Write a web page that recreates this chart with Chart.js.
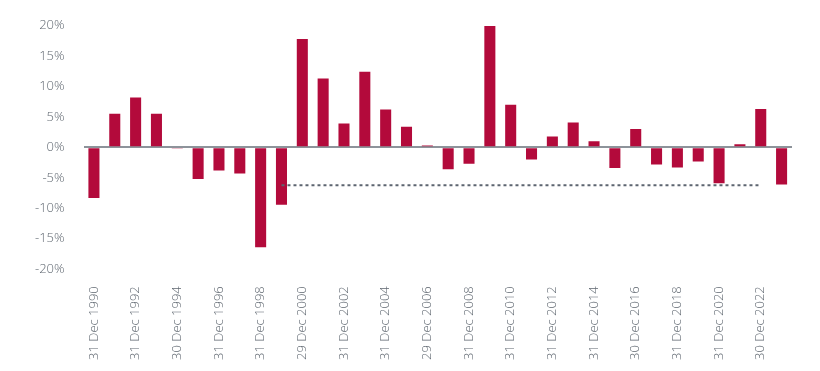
<!DOCTYPE html>
<html>
<head>
<meta charset="utf-8">
<script src="https://cdn.jsdelivr.net/npm/chart.js@4"></script>
<style>
  html, body { margin: 0; padding: 0; background: #fff; }
  #wrap { width: 820px; height: 371px; position: relative; }
</style>
</head>
<body>
<div id="wrap"><canvas id="returnsChart"></canvas></div>
<script>
const dateLabels = [
    '31 Dec 1990', '31 Dec 1991', '31 Dec 1992', '31 Dec 1993', '30 Dec 1994', '29 Dec 1995',
    '31 Dec 1996', '31 Dec 1997', '31 Dec 1998', '31 Dec 1999', '29 Dec 2000', '31 Dec 2001',
    '31 Dec 2002', '31 Dec 2003', '31 Dec 2004', '30 Dec 2005', '29 Dec 2006', '31 Dec 2007',
    '31 Dec 2008', '31 Dec 2009', '31 Dec 2010', '30 Dec 2011', '31 Dec 2012', '31 Dec 2013',
    '31 Dec 2014', '31 Dec 2015', '30 Dec 2016', '29 Dec 2017', '31 Dec 2018', '31 Dec 2019',
    '31 Dec 2020', '31 Dec 2021', '30 Dec 2022', '29 Dec 2023'
];

// yearly returns, %
const yearlyReturns = [
    -8.3, 5.5, 8.2, 5.5, -0.1, -5.2, -3.8, -4.3, -16.4, -9.4,
    17.8, 11.3, 3.9, 12.4, 6.2, 3.4, 0.3, -3.6, -2.7, 19.9,
    7.0, -2.0, 1.8, 4.1, 1.0, -3.4, 3.0, -2.8, -3.3, -2.3,
    -5.9, 0.5, 6.3, -6.1
];

// dotted reference level, drawn from 1999 to 2022
const refLevel = -6.2;
const refFrom = '31 Dec 1999';
const refTo = '30 Dec 2022';

const yTicks = [-20, -15, -10, -5, 0, 5, 10, 15, 20];

const i0 = dateLabels.indexOf(refFrom);
const i1 = dateLabels.indexOf(refTo);
const refLine = dateLabels.map((d, i) => (i >= i0 && i <= i1) ? refLevel : null);

const tickColor = '#5f6770';

new Chart(document.getElementById('returnsChart'), {
    data: {
        labels: dateLabels,
        datasets: [
            {
                type: 'line',
                data: refLine,
                borderColor: '#5d6570',
                borderWidth: 2,
                borderDash: [3, 3],
                pointRadius: 0,
                fill: false,
                spanGaps: false,
                order: 0
            },
            {
                type: 'bar',
                data: yearlyReturns,
                backgroundColor: '#b30a3b',
                barPercentage: 0.53,
                categoryPercentage: 1.0,
                order: 1
            }
        ]
    },
    options: {
        responsive: true,
        maintainAspectRatio: false,
        animation: false,
        layout: { padding: { left: 16, right: 28, top: 0, bottom: 2 } },
        plugins: { legend: { display: false }, tooltip: { enabled: false } },
        scales: {
            x: {
                grid: { display: false },
                border: { display: false },
                ticks: {
                    autoSkip: false,
                    maxRotation: 90,
                    minRotation: 90,
                    padding: 9,
                    color: tickColor,
                    font: { family: '"Open Sans", sans-serif', size: 13, weight: 300 },
                    callback: function (v, i) { return i % 2 === 0 ? this.getLabelForValue(v) : ''; }
                }
            },
            y: {
                min: -20,
                max: 20,
                afterBuildTicks: axis => { axis.ticks = yTicks.map(v => ({ value: v })); },
                border: { display: false },
                grid: {
                    drawTicks: false,
                    color: c => c.tick && c.tick.value === 0 ? '#8d939a' : 'rgba(0,0,0,0)',
                    lineWidth: 2
                },
                ticks: {
                    padding: 19,
                    color: tickColor,
                    font: { family: '"Open Sans", sans-serif', size: 13, weight: 300, lineHeight: 1 },
                    callback: v => v + '%'
                }
            }
        }
    }
});
</script>
</body>
</html>
